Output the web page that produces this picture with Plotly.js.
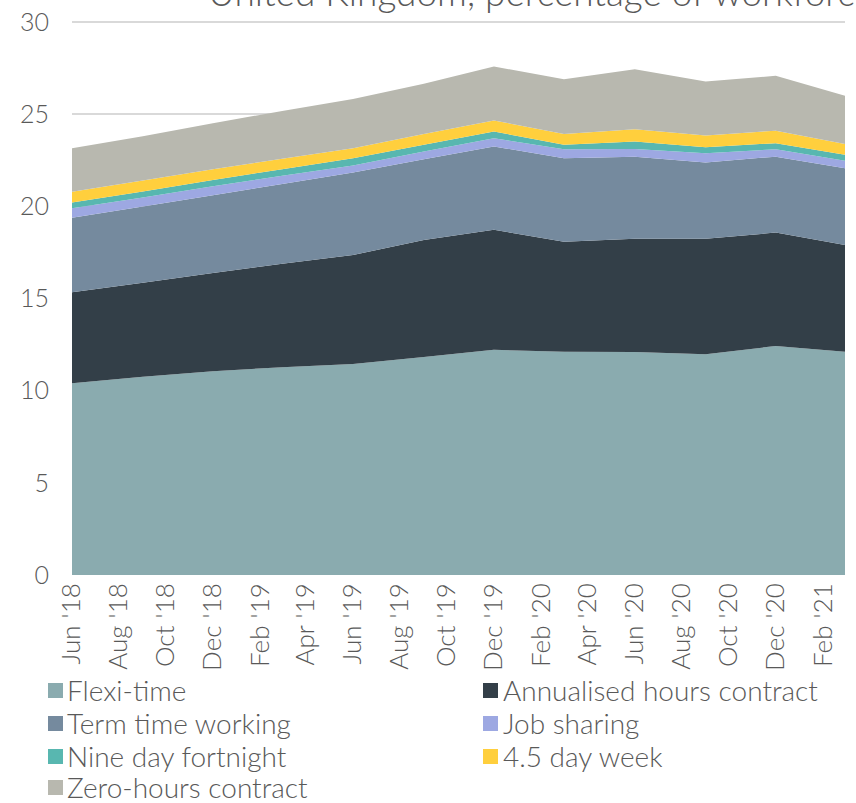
<!DOCTYPE html>
<html>
<head>
<meta charset="utf-8">
<script src="https://cdn.plot.ly/plotly-3.0.1.min.js"></script>
<style>
html,body{margin:0;padding:0;background:#fff;}
#chart{width:856px;height:803px;}
</style>
</head>
<body>
<div id="chart"></div>
<script>
// Quarterly observation dates
const dates = ['2018-06-01','2018-09-01','2018-12-01','2019-03-01','2019-06-01','2019-09-01',
               '2019-12-01','2020-03-01','2020-06-01','2020-09-01','2020-12-01','2021-03-01'];

// Series values (percentage of workforce)
const flexiTime   = [10.40, 10.75, 11.05, 11.27, 11.45, 11.82, 12.21, 12.11, 12.10, 11.97, 12.42, 12.11];
const annualised  = [4.94, 5.10, 5.33, 5.61, 5.91, 6.35, 6.51, 5.97, 6.13, 6.26, 6.15, 5.79];
const termTime    = [4.04, 4.13, 4.22, 4.32, 4.47, 4.38, 4.52, 4.52, 4.46, 4.14, 4.12, 4.16];
const jobSharing  = [0.51, 0.50, 0.49, 0.45, 0.38, 0.42, 0.45, 0.49, 0.42, 0.51, 0.40, 0.40];
const nineDay     = [0.31, 0.32, 0.33, 0.36, 0.39, 0.37, 0.36, 0.24, 0.40, 0.32, 0.33, 0.33];
const fourHalfDay = [0.59, 0.59, 0.58, 0.57, 0.55, 0.58, 0.60, 0.59, 0.67, 0.63, 0.68, 0.58];
const zeroHours   = [2.36, 2.41, 2.50, 2.59, 2.66, 2.72, 2.93, 2.97, 3.25, 2.93, 2.97, 2.62];

const seriesNames = ['Flexi-time','Annualised hours contract','Term time working','Job sharing',
                     'Nine day fortnight','4.5 day week','Zero-hours contract'];

// Tick positions and labels
const tickDates  = ['2018-06-01','2018-08-01','2018-10-01','2018-12-01','2019-02-01','2019-04-01',
                    '2019-06-01','2019-08-01','2019-10-01','2019-12-01','2020-02-01','2020-04-01',
                    '2020-06-01','2020-08-01','2020-10-01','2020-12-01','2021-02-01'];
const tickLabels = ["Jun '18","Aug '18","Oct '18","Dec '18","Feb '19","Apr '19","Jun '19","Aug '19",
                    "Oct '19","Dec '19","Feb '20","Apr '20","Jun '20","Aug '20","Oct '20","Dec '20","Feb '21"];
const yTicks = [0, 5, 10, 15, 20, 25, 30];

const titleText = 'United Kingdom, percentage of workforce';

const colors = ['#8AABAF','#333F48','#758A9E','#9DA8E2','#58B7B0','#FFCF3D','#B8B8AF'];
const allSeries = [flexiTime, annualised, termTime, jobSharing, nineDay, fourHalfDay, zeroHours];

const FONT = 'Lato, "Open Sans", sans-serif';
const TXT = '#595959';

// plot area in pixels (y range slightly above 30 so the top gridline is drawn)
const PL = 72, PR = 845, PT = 20, PB = 575;
const px2x = p => (p - PL) / (PR - PL);
const px2y = p => (PB - p) / (PB - PT);

const traces = allSeries.map((vals, i) => ({
  type: 'scatter', mode: 'none', x: dates, y: vals,
  stackgroup: 'one', fill: 'tonexty', fillcolor: colors[i],
  line: {width: 0}, name: seriesNames[i], showlegend: false, hoverinfo: 'skip'
}));

const shapes = [], annotations = [];

// Manual two-column legend
const colSquareX = [48, 483], colTextX = [65, 501];
const rowY = [689, 722, 755, 786];
seriesNames.forEach((name, i) => {
  const r = Math.floor(i / 2), c = i % 2;
  const cy = rowY[r];
  shapes.push({
    type: 'rect', xref: 'paper', yref: 'paper',
    x0: px2x(colSquareX[c]), x1: px2x(colSquareX[c] + 15),
    y0: px2y(cy + 9), y1: px2y(cy - 6),
    fillcolor: colors[i], line: {width: 0}
  });
  annotations.push({
    xref: 'paper', yref: 'paper', x: px2x(colTextX[c]), xanchor: 'left',
    y: px2y(cy + 1), yanchor: 'middle', text: name, showarrow: false,
    font: {family: FONT, size: 28, color: TXT, weight: 300}
  });
});

annotations.push({
  xref: 'paper', yref: 'paper', x: px2x(206), xanchor: 'left',
  y: px2y(16), yanchor: 'bottom',
  text: titleText, showarrow: false,
  font: {family: FONT, size: 37, color: TXT, weight: 300}
});

const layout = {
  width: 856, height: 803,
  margin: {l: PL, r: 856 - PR, t: PT, b: 803 - PB},
  paper_bgcolor: '#fff', plot_bgcolor: '#fff',
  showlegend: false,
  xaxis: {
    type: 'date', range: ['2018-06-01','2021-03-01'],
    tickvals: tickDates, ticktext: tickLabels, tickangle: -90,
    tickfont: {family: FONT, size: 26, color: TXT, weight: 300},
    showgrid: false, zeroline: false, showline: false, ticks: '', ticklabelstandoff: 2
  },
  yaxis: {
    range: [0, 30.1], tickvals: yTicks,
    tickfont: {family: FONT, size: 25, color: TXT, weight: 300},
    showgrid: true, gridcolor: '#d9d9d9', gridwidth: 2,
    zeroline: false, ticks: '', ticklabelstandoff: 22
  },
  shapes: shapes,
  annotations: annotations
};

Plotly.newPlot('chart', traces, layout, {displayModeBar: false, staticPlot: true});
</script>
</body>
</html>
